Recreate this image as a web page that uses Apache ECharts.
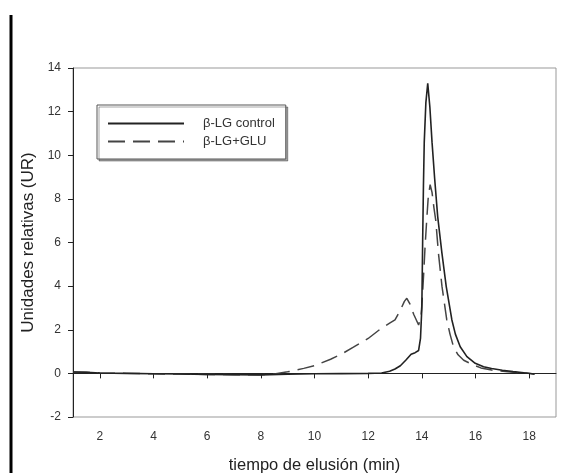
<!DOCTYPE html>
<html>
<head>
<meta charset="utf-8">
<script src="https://cdn.jsdelivr.net/npm/echarts@6/dist/echarts.min.js"></script>
<style>
  html, body { margin: 0; padding: 0; background: #fff; }
  #chart { width: 575px; height: 473px; }
</style>
</head>
<body>
<div id="chart"></div>
<script>
// tiempo de elusion (min) / unidades relativas
var controlX = [1.0, 1.5, 2.0, 3.0, 4.0, 5.0, 6.0, 7.0, 8.0, 9.0, 10.0, 11.0, 12.0, 12.5, 12.8, 13.0, 13.2, 13.4, 13.6, 13.75, 13.88, 13.95, 14.0, 14.03, 14.06, 14.09, 14.15, 14.22, 14.3, 14.38, 14.48, 14.59, 14.75, 14.91, 15.12, 15.25, 15.43, 15.68, 15.99, 16.3, 16.6, 17.0, 17.4, 17.8, 18.2];
var controlY = [0.06, 0.05, 0.02, 0.0, -0.02, -0.03, -0.05, -0.06, -0.07, -0.04, -0.02, -0.01, 0.0, 0.02, 0.1, 0.2, 0.35, 0.6, 0.88, 0.95, 1.05, 1.6, 3.0, 6.0, 8.6, 10.6, 12.4, 13.3, 12.2, 10.6, 8.9, 7.2, 5.5, 3.98, 2.45, 1.8, 1.22, 0.77, 0.46, 0.3, 0.22, 0.14, 0.08, 0.03, -0.03];

var gluX = [1.0, 1.5, 2.0, 3.0, 4.0, 5.0, 6.0, 7.0, 8.0, 8.5, 9.0, 9.6, 10.0, 10.6, 11.0, 11.45, 12.0, 12.45, 12.8, 13.0, 13.2, 13.35, 13.44, 13.55, 13.7, 13.88, 13.97, 14.02, 14.07, 14.12, 14.18, 14.24, 14.31, 14.38, 14.45, 14.52, 14.62, 14.75, 14.93, 15.05, 15.18, 15.35, 15.56, 15.93, 16.2, 16.6, 17.2, 17.6, 18.0, 18.2];
var gluY = [0.06, 0.05, 0.02, 0.0, -0.02, -0.03, -0.05, -0.06, -0.06, -0.03, 0.07, 0.23, 0.35, 0.65, 0.88, 1.2, 1.6, 2.03, 2.3, 2.45, 2.9, 3.3, 3.44, 3.2, 2.7, 2.22, 2.6, 3.5, 4.6, 5.8, 7.0, 8.1, 8.65, 8.3, 7.6, 7.0, 5.5, 4.0, 2.45, 1.8, 1.22, 0.85, 0.6, 0.38, 0.25, 0.15, 0.08, 0.04, 0.0, -0.04];

var xTicks = [2, 4, 6, 8, 10, 12, 14, 16, 18];
var seriesNames = ['\u03b2-LG control', '\u03b2-LG+GLU'];

function pairs(xs, ys) {
    return xs.map(function (x, i) { return [x, ys[i]]; });
}

var font = '"Liberation Sans", Arial, sans-serif';

var option = {
    backgroundColor: '#fff',
    animation: false,
    grid: {
        left: 73, right: 19, top: 68, bottom: 56,
        containLabel: false,
        outerBoundsMode: 'none',
        show: true,
        borderColor: '#999',
        borderWidth: 1
    },
    legend: {
        orient: 'vertical',
        left: 97,
        top: 105,
        data: seriesNames,
        itemWidth: 76,
        itemHeight: 14,
        itemGap: 5,
        padding: [12, 11, 11, 10],
        backgroundColor: '#fff',
        borderColor: '#555',
        borderWidth: 1,
        shadowColor: 'rgba(0,0,0,0.35)',
        shadowOffsetX: 2,
        shadowOffsetY: 2,
        shadowBlur: 0,
        selectedMode: false,
        itemStyle: { opacity: 0 },
        textStyle: {
            fontFamily: font, fontSize: 13, color: '#333',
            padding: [0, 0, 0, 14]
        }
    },
    xAxis: {
        type: 'value',
        min: 1,
        max: 19,
        name: 'tiempo de elusi\u00f3n (min)',
        nameLocation: 'middle',
        nameGap: 40,
        nameTextStyle: { fontFamily: font, fontSize: 16.5, color: '#222' },
        splitLine: { show: false },
        axisLine: { lineStyle: { color: '#222', width: 1 } },
        axisTick: { show: true, customValues: xTicks, length: 5, lineStyle: { color: '#222' } },
        axisLabel: { customValues: xTicks, margin: 14, fontFamily: font, fontSize: 12, color: '#333' }
    },
    yAxis: {
        type: 'value',
        min: -2,
        max: 14,
        interval: 2,
        name: 'Unidades relativas (UR)',
        nameLocation: 'middle',
        nameRotate: 90,
        nameGap: 36,
        nameTextStyle: { fontFamily: font, fontSize: 17, color: '#222' },
        splitLine: { show: false },
        axisLine: { show: true, lineStyle: { color: '#222', width: 1 } },
        axisTick: { show: true, length: 5, lineStyle: { color: '#222' } },
        axisLabel: { margin: 12, fontFamily: font, fontSize: 12, color: '#333' }
    },
    series: [
        {
            name: seriesNames[0],
            type: 'line',
            symbol: 'none',
            data: pairs(controlX, controlY),
            lineStyle: { color: '#222', width: 1.6 },
            itemStyle: { color: '#222' },
            z: 3
        },
        {
            name: seriesNames[1],
            type: 'line',
            symbol: 'none',
            data: pairs(gluX, gluY),
            lineStyle: { color: '#444', width: 1.5, type: [17, 8] },
            itemStyle: { color: '#444' },
            z: 2
        }
    ],
    graphic: [
        {
            type: 'line',
            shape: { x1: 11, y1: 15, x2: 11, y2: 473 },
            style: { stroke: '#000', lineWidth: 3 }
        }
    ]
};

var myChart = echarts.init(document.getElementById('chart'));
myChart.setOption(option);
</script>
</body>
</html>
